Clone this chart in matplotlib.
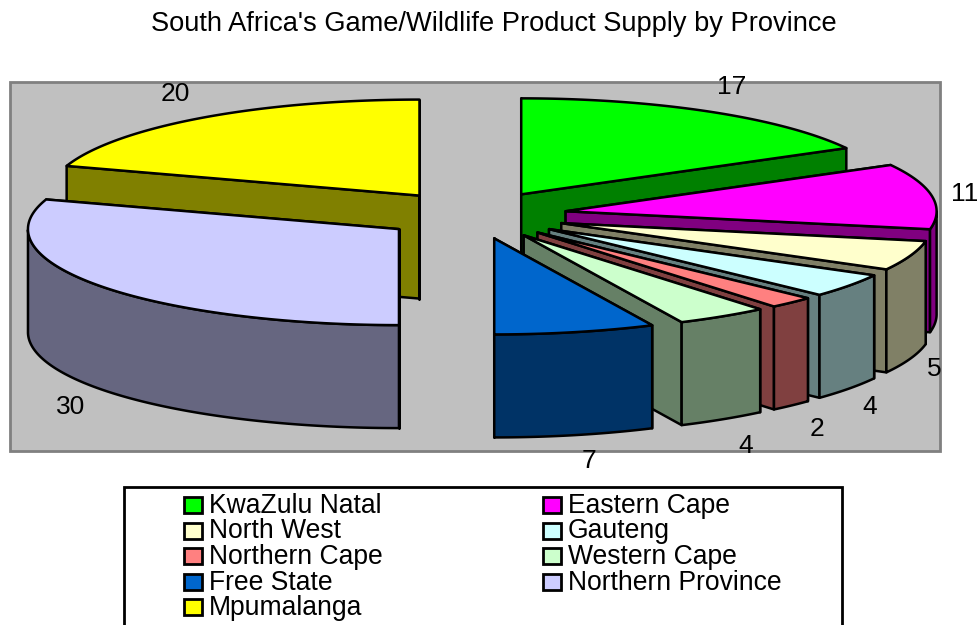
import numpy as np
import matplotlib
matplotlib.use("Agg")
import matplotlib.pyplot as plt
from matplotlib.patches import Polygon, Rectangle

plt.rcParams['font.family'] = ['Liberation Sans', 'DejaVu Sans']

title = "South Africa's Game/Wildlife Product Supply by Province"
provinces = ["KwaZulu Natal", "Eastern Cape", "North West", "Gauteng", "Northern Cape",
             "Western Cape", "Free State", "Northern Province", "Mpumalanga"]
values = [17, 11, 5, 4, 2, 4, 7, 30, 20]
top_colors = ["#00FF00", "#FF00FF", "#FFFFCC", "#CCFFFF", "#FF8080",
              "#CCFFCC", "#0066CC", "#CCCCFF", "#FFFF00"]
side_colors = ["#008000", "#800080", "#808066", "#668080", "#804040",
               "#668066", "#003366", "#666680", "#808000"]

# layout: nudge of each value label away from its slice's outer edge
label_nudges = [(22, -25), (33, -2), (24, 10), (21, 18), (26, 24),
                (23, 27), (14, 26), (-28, 18), (-26, -24)]

CX, CY, RX, RY = 474, 215, 371, 96
DEPTH, EXPLODE = 103, 0.25
LW = 1.8

fig = plt.figure(figsize=(9.8, 6.25), dpi=100, facecolor="white")
ax = fig.add_axes([0, 0, 1, 1])
ax.set_xlim(0, 980)
ax.set_ylim(625, 0)
ax.axis("off")

ax.add_patch(Rectangle((10, 82), 930, 369, fc="#C0C0C0", ec="#808080", lw=2, zorder=0))
ax.text(493.5, 24, title, ha="center", va="center", fontsize=19.6, color="black")

total = sum(values)
edges = np.concatenate([[0], np.cumsum(values)]) / total * 2 * np.pi


def rim(ox, oy, t):
    return np.column_stack([ox + RX * np.sin(t), oy - RY * np.cos(t)])


def draw_slice(i, z):
    t0, t1 = edges[i], edges[i + 1]
    mid = (t0 + t1) / 2
    ox = CX + EXPLODE * RX * np.sin(mid)
    oy = CY - EXPLODE * RY * np.cos(mid)
    apex = np.array([[ox, oy]])
    down = np.array([0, DEPTH])
    ts = np.linspace(t0, t1, 200)
    arc = rim(ox, oy, ts)
    kw = dict(ec="black", lw=LW, joinstyle="round", fc=side_colors[i])
    # radial cut faces
    for end in (arc[0], arc[-1]):
        face = np.array([apex[0], end, end + down, apex[0] + down])
        ax.add_patch(Polygon(face, zorder=z, **kw))
    # outer wall: only the part of the rim facing the viewer
    ft = ts[np.cos(ts) <= 0]
    if len(ft) > 1:
        wall = rim(ox, oy, ft)
        ax.add_patch(Polygon(np.vstack([wall, (wall + down)[::-1]]), zorder=z, **kw))
    # top face
    kw["fc"] = top_colors[i]
    ax.add_patch(Polygon(np.vstack([apex, arc]), zorder=z, **kw))
    # value label beyond the slice's outer edge
    lx, ly = rim(ox, oy, np.array([mid]))[0]
    if np.cos(mid) <= 0:
        ly += DEPTH
    ax.text(lx + label_nudges[i][0], ly + label_nudges[i][1], str(values[i]),
            ha="center", va="center", fontsize=19, zorder=50)


order = [8, 7, 0, 1, 2, 3, 4, 5, 6]
for z, i in enumerate(order, start=2):
    draw_slice(i, z)

# legend, cut off by the bottom of the picture as in the source
ax.add_patch(Rectangle((124, 487), 718, 200, fc="white", ec="black", lw=2, zorder=20, clip_on=True))
for k, (name, col) in enumerate(zip(provinces, top_colors)):
    row, c = k // 2, k % 2
    sx = 184 + c * 359
    sy = 505 + row * 25.5
    ax.add_patch(Rectangle((sx, sy - 8), 18, 16, fc=col, ec="black", lw=2, zorder=21))
    ax.text(sx + 25, sy + 1, name, ha="left", va="center", fontsize=19.1, zorder=21)

fig.savefig("out.png", dpi=100, facecolor="white")
